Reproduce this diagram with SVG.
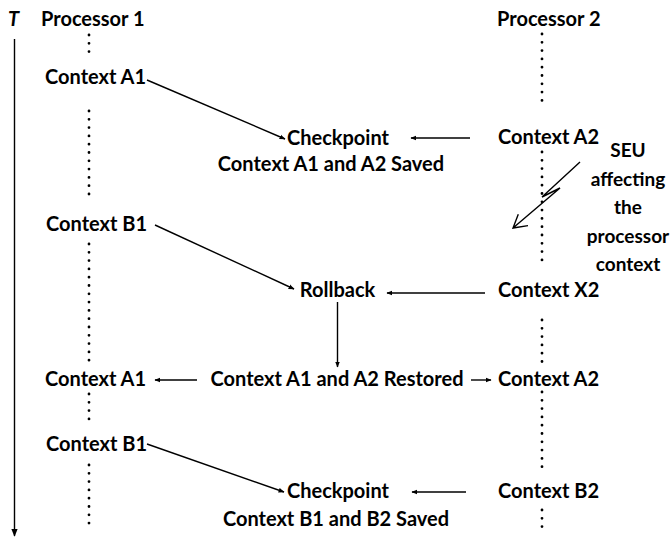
<svg xmlns="http://www.w3.org/2000/svg" width="671" height="538" viewBox="0 0 671 538">
<style>
text{font-family:Lato,"Open Sans","Liberation Sans",sans-serif;font-weight:bold;font-size:20px;fill:#000}
.m{text-anchor:middle}
.s{font-size:19px}
.dot{stroke:#000;stroke-width:2.8;stroke-linecap:round;stroke-dasharray:0 8.3;fill:none}
.ln{stroke:#000;stroke-width:1.4;fill:none}
</style>
<defs>
<marker id="ah" viewBox="0 0 10 10" refX="9" refY="5" markerWidth="6" markerHeight="6" orient="auto" markerUnits="userSpaceOnUse">
<path d="M0,1 L10,5 L0,9 Z" fill="#000"/>
</marker>
<marker id="ahb" viewBox="0 0 10 10" refX="9" refY="5" markerWidth="8" markerHeight="8" orient="auto" markerUnits="userSpaceOnUse">
<path d="M0,1 L10,5 L0,9 Z" fill="#000"/>
</marker>
</defs>
<rect width="671" height="538" fill="#fff"/>
<g id="time-axis">
<text x="8" y="26" font-style="italic">T</text>
<line class="ln" x1="14.5" y1="39" x2="14.5" y2="536" marker-end="url(#ahb)"/>
</g>
<g id="lifelines">
<path class="dot" d="M89,35 V56 M89,111 V195 M89,244 V362 M89,394 V420 M89,465 V530"/>
<path class="dot" d="M542,34 V104 M542,152 V266 M542,320 V363 M542,392 V468 M542,510 V530"/>
</g>
<g id="processor1"><text x="41" y="26">Processor 1</text></g>
<g id="processor2"><text x="497" y="26">Processor 2</text></g>
<g id="contextA1-1"><text x="45" y="84">Context A1</text></g>
<g id="checkpoint1"><text class="m" x="338" y="145">Checkpoint</text><text class="m" x="331" y="171">Context A1 and A2 Saved</text></g>
<g id="contextA2-1"><text x="498" y="144">Context A2</text></g>
<g id="seu"><text class="m s" x="628" y="157">SEU</text><text class="m s" x="628" y="186">affecting</text><text class="m s" x="628" y="214">the</text><text class="m s" x="628" y="243">processor</text><text class="m s" x="628" y="271">context</text></g>
<g id="contextB1-1"><text x="46" y="231">Context B1</text></g>
<g id="rollback"><text class="m" x="337.5" y="297">Rollback</text></g>
<g id="contextX2"><text x="498" y="297">Context X2</text></g>
<g id="contextA1-2"><text x="45" y="386">Context A1</text></g>
<g id="restored"><text class="m" x="337" y="386">Context A1 and A2 Restored</text></g>
<g id="contextA2-2"><text x="498" y="386">Context A2</text></g>
<g id="contextB1-2"><text x="46" y="451">Context B1</text></g>
<g id="checkpoint2"><text class="m" x="338" y="498">Checkpoint</text><text class="m" x="336" y="526">Context B1 and B2 Saved</text></g>
<g id="contextB2"><text x="498" y="498">Context B2</text></g>
<g id="connectors">
<line class="ln" x1="147" y1="80" x2="285" y2="139" marker-end="url(#ah)"/>
<line class="ln" x1="470" y1="138" x2="411" y2="138" marker-end="url(#ah)"/>
<line class="ln" x1="155" y1="225" x2="294" y2="289" marker-end="url(#ah)"/>
<line class="ln" x1="485" y1="293" x2="387" y2="293" marker-end="url(#ah)"/>
<line class="ln" x1="337.5" y1="302" x2="337.5" y2="367" marker-end="url(#ah)"/>
<line class="ln" x1="197" y1="380" x2="155" y2="380" marker-end="url(#ah)"/>
<line class="ln" x1="471" y1="380" x2="491" y2="380" marker-end="url(#ah)"/>
<line class="ln" x1="147" y1="444" x2="284" y2="492" marker-end="url(#ah)"/>
<line class="ln" x1="466" y1="492" x2="412" y2="492" marker-end="url(#ah)"/>
<path class="ln" d="M580,162 L542,197 L560,188 L513,228 M528,225.6 L513,228 L518.3,214.2"/>
</g>
</svg>
